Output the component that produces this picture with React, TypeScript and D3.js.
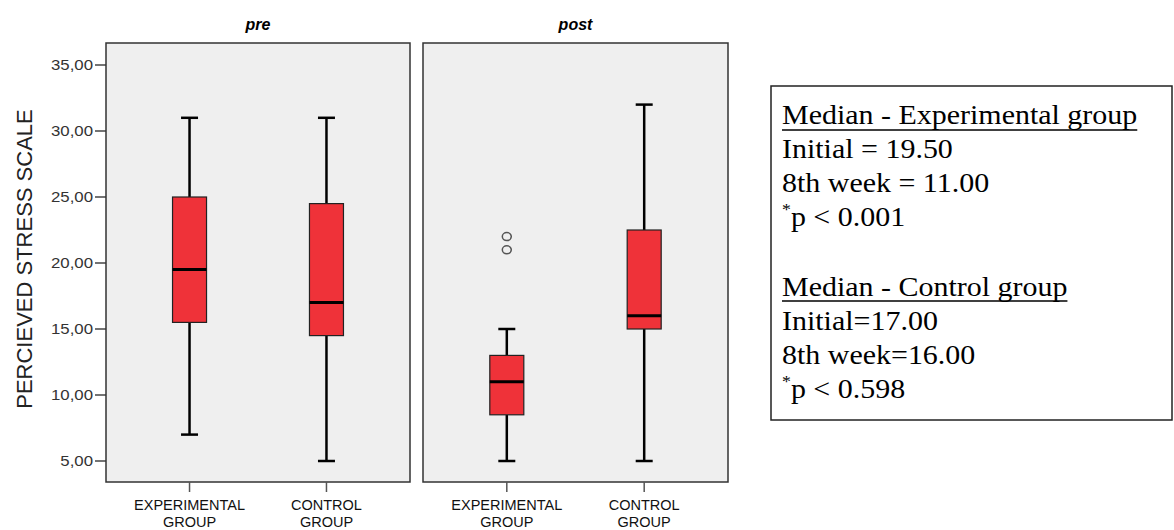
import React, { useLayoutEffect, useRef, useState } from "react";
import * as d3 from "d3";

// values (index: pre-exp, pre-ctrl, post-exp, post-ctrl)
const panels = ["pre", "post"];
const groups = ["EXPERIMENTAL GROUP", "CONTROL GROUP"];
const mins = [7, 5, 5, 5];
const q1s = [15.5, 14.5, 8.5, 15];
const medians = [19.5, 17, 11, 16];
const q3s = [25, 24.5, 13, 22.5];
const maxs = [31, 31, 15, 32];
const outliers = [[], [], [22, 21], []];
const yTicks = [5, 10, 15, 20, 25, 30, 35];

const noteExp = ["Initial = 19.50", "8th week = 11.00", "p < 0.001"];
const noteCtrl = ["Initial=17.00", "8th week=16.00", "p < 0.598"];

const W = 1174;
const H = 530;
const panelTop = 43;
const panelBottom = 482;
const panelX = [
  [106, 410],
  [423, 728],
];
const boxW = 34;
const capW = 17;
const RED = "#ef3239";

export default function App() {
  const y = d3.scaleLinear().domain([5, 35]).range([461, 65]);
  const fmt = (v: number) => d3.format(".2f")(v).replace(".", ",");
  const sans = "'Liberation Sans', Arial, sans-serif";
  const serif = "'Liberation Serif', 'Times New Roman', serif";

  // measure the two headings so the underlines run straight through the descenders
  const h1 = useRef<SVGTextElement>(null);
  const h2 = useRef<SVGTextElement>(null);
  const [uw, setUw] = useState([0, 0]);
  useLayoutEffect(() => {
    setUw([h1.current?.getComputedTextLength() ?? 0, h2.current?.getComputedTextLength() ?? 0]);
  }, []);

  const noteLines = (lines: string[], y0: number) =>
    lines.map((s, k) => (
      <text key={s} x={0} y={y0 + k * 34}>
        {k === 2 ? (
          <>
            <tspan fontSize={16} dy={-11}>*</tspan>
            <tspan dy={11}>{s}</tspan>
          </>
        ) : (
          s
        )}
      </text>
    ));

  return (
    <svg
      width={W}
      height={H}
      style={{ position: "absolute", left: 0, top: 0, background: "#fff" }}
    >
      {/* y axis title */}
      <text
        transform={`translate(32, 259) rotate(-90)`}
        textAnchor="middle"
        fontFamily={sans}
        fontSize={22}
        fill="#222"
      >
        PERCIEVED STRESS SCALE
      </text>

      {/* y ticks */}
      {yTicks.map((t) => (
        <g key={t}>
          <line x1={95} x2={106} y1={y(t)} y2={y(t)} stroke="#444" strokeWidth={1.5} />
          <text
            transform={`translate(93, ${y(t) + 5}) scale(1.2, 1)`}
            textAnchor="end"
            fontFamily={sans}
            fontSize={14}
            fill="#333"
          >
            {fmt(t)}
          </text>
        </g>
      ))}

      {panels.map((p, pi) => {
        const [x0, x1] = panelX[pi];
        const x = d3.scalePoint<string>().domain(groups).range([x0, x1]).padding(0.61);
        return (
          <g key={p}>
            <text
              x={(x0 + x1) / 2}
              y={30}
              textAnchor="middle"
              fontFamily={sans}
              fontSize={16}
              fontWeight="bold"
              fontStyle="italic"
              fill="#000"
            >
              {p}
            </text>
            <rect
              x={x0}
              y={panelTop}
              width={x1 - x0}
              height={panelBottom - panelTop}
              fill="#efefef"
              stroke="#333"
              strokeWidth={1.5}
            />
            {groups.map((g, gi) => {
              const i = pi * 2 + gi;
              const cx = x(g) as number;
              const [l1, l2] = g.split(" ");
              return (
                <g key={g}>
                  {/* whiskers */}
                  <line x1={cx} x2={cx} y1={y(maxs[i])} y2={y(q3s[i])} stroke="#000" strokeWidth={2.5} />
                  <line x1={cx} x2={cx} y1={y(q1s[i])} y2={y(mins[i])} stroke="#000" strokeWidth={2.5} />
                  <line x1={cx - capW / 2} x2={cx + capW / 2} y1={y(maxs[i])} y2={y(maxs[i])} stroke="#000" strokeWidth={2.5} />
                  <line x1={cx - capW / 2} x2={cx + capW / 2} y1={y(mins[i])} y2={y(mins[i])} stroke="#000" strokeWidth={2.5} />
                  {/* box */}
                  <rect
                    x={cx - boxW / 2}
                    y={y(q3s[i])}
                    width={boxW}
                    height={y(q1s[i]) - y(q3s[i])}
                    fill={RED}
                    stroke="#222"
                    strokeWidth={1.2}
                  />
                  <line
                    x1={cx - boxW / 2}
                    x2={cx + boxW / 2}
                    y1={y(medians[i])}
                    y2={y(medians[i])}
                    stroke="#000"
                    strokeWidth={3}
                  />
                  {outliers[i].map((o, k) => (
                    <ellipse key={k} cx={cx} cy={y(o)} rx={4.5} ry={4} fill="none" stroke="#555" strokeWidth={1.5} />
                  ))}
                  {/* x tick + label */}
                  <line x1={cx} x2={cx} y1={panelBottom} y2={panelBottom + 10} stroke="#555" strokeWidth={1.5} />
                  <text x={cx} y={510} textAnchor="middle" fontFamily={sans} fontSize={14.5} fill="#111">
                    {l1}
                  </text>
                  <text x={cx} y={527} textAnchor="middle" fontFamily={sans} fontSize={14.5} fill="#111">
                    {l2}
                  </text>
                </g>
              );
            })}
          </g>
        );
      })}

      {/* notes box */}
      <rect x={771} y={86} width={401} height={334} fill="#fff" stroke="#222" strokeWidth={1.5} />
      <g transform="translate(782, 0) scale(1.11, 1)" fontFamily={serif} fontSize={27} fill="#000">
        <text ref={h1} x={0} y={124}>
          Median - Experimental group
        </text>
        <line x1={0} x2={uw[0]} y1={130} y2={130} stroke="#000" strokeWidth={1.3} />
        {noteLines(noteExp, 158)}
        <text ref={h2} x={0} y={296}>
          Median - Control group
        </text>
        <line x1={0} x2={uw[1]} y1={301} y2={301} stroke="#000" strokeWidth={1.3} />
        {noteLines(noteCtrl, 330)}
      </g>
    </svg>
  );
}
